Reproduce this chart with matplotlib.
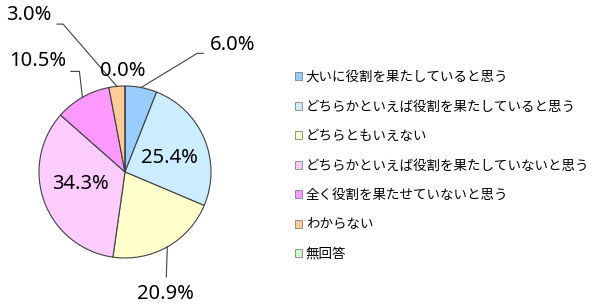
import numpy as np
import matplotlib
matplotlib.use('Agg')
from matplotlib import pyplot as plt
from matplotlib.patches import Patch

# data
labels = ['大いに役割を果たしていると思う',
          'どちらかといえば役割を果たしていると思う',
          'どちらともいえない',
          'どちらかといえば役割を果たしていないと思う',
          '全く役割を果たせていないと思う',
          'わからない',
          '無回答']
values = [6.0, 25.4, 20.9, 34.3, 10.5, 3.0, 0.0]
colors = ['#99CCFF', '#CCECFF', '#FFFFCC', '#FFCCFF', '#FF99FF', '#FFCC99', '#CCFFCC']

# label placement: (x, y) of text, optional leader elbow/end points (pie radius = 1)
label_pos = [(1.25, 1.48), (0.52, 0.16), (0.47, -1.42), (-0.52, -0.14),
             (-1.02, 1.29), (-1.12, 1.83), (-0.03, 1.17)]
leaders = {0: [(0.84, 1.38), (0.91, 1.38)],
           2: [(0.48, -1.22)],
           4: [(-0.53, 1.17), (-0.63, 1.17)],
           5: [(-0.72, 1.72), (-0.79, 1.72)]}

plt.rcParams['font.family'] = ['Noto Sans', 'Noto Sans CJK JP', 'DejaVu Sans']

fig = plt.figure(figsize=(6, 3.07), dpi=100)
ax = fig.add_axes([0, 0, 280 / 600, 1])
wedges, _ = ax.pie(values, colors=colors, startangle=90, counterclock=False,
                   wedgeprops=dict(edgecolor='#404040', linewidth=0.8))
ax.set_xlim(-125 / 86, 155 / 86)
ax.set_ylim(-135 / 86, 172 / 86)
ax.set_aspect('auto')

for i, w in enumerate(wedges):
    mid = np.deg2rad((w.theta1 + w.theta2) / 2)
    if i in leaders:
        pts = [(np.cos(mid), np.sin(mid))] + leaders[i]
        xs, ys = zip(*pts)
        ax.plot(xs, ys, color='#404040', lw=0.8, clip_on=False)
    ax.text(label_pos[i][0], label_pos[i][1], '%.1f%%' % values[i],
            ha='center', va='center', fontsize=14.5, color='black')

handles = [Patch(facecolor=c, edgecolor='#7F7F7F', linewidth=0.6) for c in colors]
fig.legend(handles, labels, loc='upper left', bbox_to_anchor=(295 / 600, 1 - 70 / 307),
           frameon=False, prop={'family': ['Noto Sans CJK JP', 'DejaVu Sans'], 'size': 9.7},
           handlelength=0.55, handleheight=0.55, handletextpad=0.25,
           labelspacing=1.15, borderpad=0, borderaxespad=0)

fig.savefig('out.png', dpi=100)
